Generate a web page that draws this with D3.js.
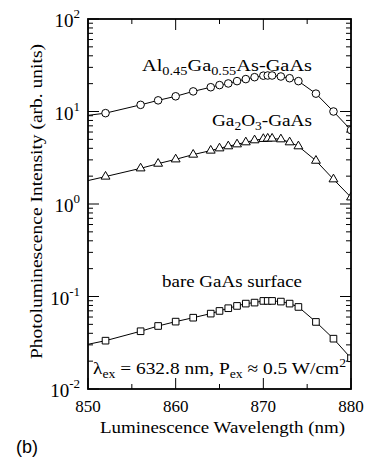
<!DOCTYPE html>
<html>
<head>
<meta charset="utf-8">
<script src="https://cdn.jsdelivr.net/npm/d3@7"></script>
<style>
  html, body { margin: 0; padding: 0; background: #fff; }
  svg { display: block; }
  text { fill: #000; font-family: 'Liberation Serif', 'Times New Roman', Times, serif; }
  text.sans { font-family: 'Liberation Sans', Arial, Helvetica, sans-serif; }
</style>
</head>
<body>
<svg id="chart" width="366" height="461"></svg>
<script>
// wavelengths (nm); first point sits just outside the frame and is clipped
const wavelengths = [848, 852, 856, 858, 860, 862, 864, 865, 866, 867, 868, 869, 870, 870.5, 871, 872, 873, 874, 876, 878, 880];
const alGaAs = [8.6, 9.6, 11.8, 13.2, 14.6, 16.5, 18.3, 19.3, 20.1, 21.3, 22.4, 23.5, 24.4, 24.5, 24.5, 23.9, 22.9, 21.3, 15.6, 10.0, 6.3];
const ga2o3 = [1.62, 1.98, 2.43, 2.73, 3.04, 3.42, 3.78, 4.00, 4.21, 4.42, 4.65, 4.89, 5.06, 5.10, 5.10, 5.01, 4.65, 4.21, 2.94, 1.85, 1.18];
const bareGaAs = [0.0278, 0.0333, 0.0421, 0.048, 0.0535, 0.059, 0.0653, 0.0698, 0.0747, 0.0791, 0.0838, 0.0859, 0.0896, 0.0896, 0.0896, 0.0881, 0.0838, 0.0771, 0.0531, 0.035, 0.0215];

const xTicks = [850, 860, 870, 880];
const xMinorTicks = [855, 865, 875];
const yDecades = [-2, -1, 0, 1, 2];

const svg = d3.select('#chart');
const margin = { left: 88, right: 15, top: 19, bottom: 72 };
const width = 366 - margin.left - margin.right;
const height = 461 - margin.top - margin.bottom;

const x = d3.scaleLinear().domain([850, 880]).range([0, width]);
const y = d3.scaleLog().domain([0.01, 100]).range([height, 0]);

const g = svg.append('g').attr('transform', `translate(${margin.left},${margin.top})`);

svg.append('defs').append('clipPath').attr('id', 'plot-clip')
  .append('rect').attr('width', width).attr('height', height);

// ticks (inward on all four sides)
const ticks = g.append('g').attr('stroke', '#000').attr('stroke-width', 1);
const minorY = [];
yDecades.slice(0, -1).forEach(p => {
  for (let k = 2; k <= 9; k += 1) minorY.push(k * Math.pow(10, p));
});
minorY.forEach(v => {
  ticks.append('line').attr('x1', 0).attr('x2', 5).attr('y1', y(v)).attr('y2', y(v));
  ticks.append('line').attr('x1', width).attr('x2', width - 5).attr('y1', y(v)).attr('y2', y(v));
});
yDecades.forEach(p => {
  const v = Math.pow(10, p);
  ticks.append('line').attr('x1', 0).attr('x2', 11).attr('y1', y(v)).attr('y2', y(v));
  ticks.append('line').attr('x1', width).attr('x2', width - 11).attr('y1', y(v)).attr('y2', y(v));
});
xTicks.forEach(t => {
  ticks.append('line').attr('x1', x(t)).attr('x2', x(t)).attr('y1', height).attr('y2', height - 11);
  ticks.append('line').attr('x1', x(t)).attr('x2', x(t)).attr('y1', 0).attr('y2', 11);
});
xMinorTicks.forEach(t => {
  ticks.append('line').attr('x1', x(t)).attr('x2', x(t)).attr('y1', height).attr('y2', height - 5);
  ticks.append('line').attr('x1', x(t)).attr('x2', x(t)).attr('y1', 0).attr('y2', 5);
});

// series
const plot = g.append('g').attr('clip-path', 'url(#plot-clip)');
const line = d3.line().x(d => x(d[0])).y(d => y(d[1]));
const series = [
  { values: alGaAs, symbol: 'circle' },
  { values: ga2o3, symbol: d3.symbolTriangle, size: 34 },
  { values: bareGaAs, symbol: d3.symbolSquare, size: 44 }
];
series.forEach(s => {
  const pts = wavelengths.map((w, i) => [w, s.values[i]]);
  plot.append('path').datum(pts)
    .attr('fill', 'none').attr('stroke', '#000').attr('stroke-width', 1)
    .attr('d', line);
  if (s.symbol === 'circle') {
    plot.selectAll(null).data(pts).join('circle')
      .attr('cx', d => x(d[0])).attr('cy', d => y(d[1])).attr('r', 3.8)
      .attr('fill', '#fff').attr('stroke', '#000').attr('stroke-width', 1);
  } else {
    const sym = d3.symbol().type(s.symbol).size(s.size);
    plot.selectAll(null).data(pts).join('path')
      .attr('transform', d => `translate(${x(d[0])},${y(d[1])})`)
      .attr('d', sym)
      .attr('fill', '#fff').attr('stroke', '#000').attr('stroke-width', 1);
  }
});

// frame
g.append('rect').attr('width', width).attr('height', height)
  .attr('fill', 'none').attr('stroke', '#000').attr('stroke-width', 1.8);

// x tick labels
g.append('g').selectAll('text').data(xTicks).join('text')
  .attr('x', d => x(d)).attr('y', height + 23)
  .attr('text-anchor', 'middle')
  .attr('font-size', 17)
  .text(d => d);

// y tick labels: 10^p
yDecades.forEach(p => {
  const t = g.append('text')
    .attr('x', -8).attr('y', y(Math.pow(10, p)) + 8)
    .attr('text-anchor', 'end')
    .attr('font-size', 19);
  t.append('tspan').text('10');
  t.append('tspan').attr('dy', -9).attr('font-size', 13).text(p < 0 ? '-' + Math.abs(p) : p);
});

// axis titles (the original typesetting is a bit wider than Times, so stretch)
g.append('text')
  .attr('x', 12).attr('y', height + 44)
  .attr('font-size', 17)
  .attr('textLength', 245).attr('lengthAdjust', 'spacingAndGlyphs')
  .text('Luminescence Wavelength (nm)');

g.append('text')
  .attr('transform', `translate(-46,${height / 2 - 2}) rotate(-90)`)
  .attr('x', -157)
  .attr('font-size', 17)
  .attr('textLength', 315).attr('lengthAdjust', 'spacingAndGlyphs')
  .text('Photoluminescence Intensity (arb. units)');

// series labels
const lab1 = g.append('text').attr('x', 54).attr('y', 52)
  .attr('font-size', 17)
  .attr('textLength', 170).attr('lengthAdjust', 'spacingAndGlyphs');
lab1.append('tspan').text('Al');
lab1.append('tspan').attr('dy', 4).attr('font-size', 12).text('0.45');
lab1.append('tspan').attr('dy', -4).text('Ga');
lab1.append('tspan').attr('dy', 4).attr('font-size', 12).text('0.55');
lab1.append('tspan').attr('dy', -4).text('As-GaAs');

const lab2 = g.append('text').attr('x', 124).attr('y', 107)
  .attr('font-size', 17)
  .attr('textLength', 100).attr('lengthAdjust', 'spacingAndGlyphs');
lab2.append('tspan').text('Ga');
lab2.append('tspan').attr('dy', 4).attr('font-size', 12).text('2');
lab2.append('tspan').attr('dy', -4).text('O');
lab2.append('tspan').attr('dy', 4).attr('font-size', 12).text('3');
lab2.append('tspan').attr('dy', -4).text('-GaAs');

g.append('text').attr('x', 74).attr('y', 268)
  .attr('font-size', 17)
  .attr('textLength', 140).attr('lengthAdjust', 'spacingAndGlyphs')
  .text('bare GaAs surface');

const cond = g.append('text').attr('x', 5).attr('y', height - 15)
  .attr('font-size', 17)
  .attr('textLength', 253).attr('lengthAdjust', 'spacingAndGlyphs');
cond.append('tspan').text('λ');
cond.append('tspan').attr('dy', 4).attr('font-size', 12).text('ex');
cond.append('tspan').attr('dy', -4).text(' = 632.8 nm, P');
cond.append('tspan').attr('dy', 4).attr('font-size', 12).text('ex');
cond.append('tspan').attr('dy', -4).text(' ≈ 0.5 W/cm');
cond.append('tspan').attr('dy', -7).attr('font-size', 12).text('2');

// panel tag
svg.append('text').attr('class', 'sans').attr('x', 16).attr('y', 453)
  .attr('font-size', 18)
  .text('(b)');
</script>
</body>
</html>
